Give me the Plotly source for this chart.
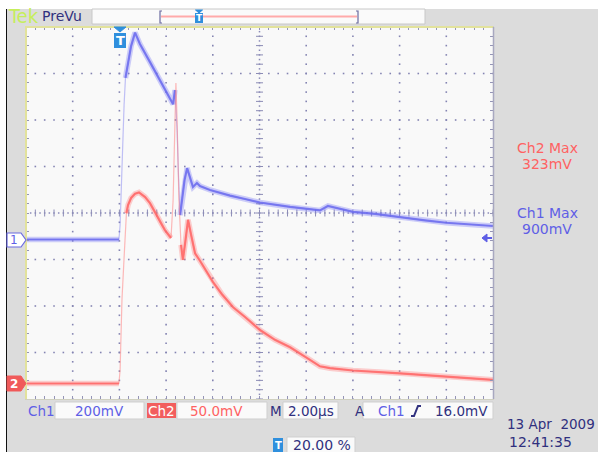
import numpy as np
import plotly.graph_objects as go

# ---------------- data (time in µs, voltage in mV) ----------------
ch1_t = [-4.0, -0.02, 0.03, 0.11, 0.20, 0.26, 0.37, 0.50, 0.67, 0.88, 1.31, 1.74, 2.30, 2.38,
         2.47, 2.53, 2.60, 2.68, 2.79, 2.90, 3.02, 3.15, 3.32, 3.45, 3.88, 4.31, 4.74, 5.38,
         6.02, 7.31, 8.03, 8.59, 8.93, 9.45, 10.0, 10.95, 12.02, 13.09, 13.99, 15.02, 16.0]
ch1_mv = [0, 0, 62, 342, 578, 695, 763, 832, 890, 841, 763, 686, 582, 643,
          471, 277, 105, 170, 256, 307, 265, 226, 243, 230, 213, 200, 189, 174,
          159, 140, 131, 125, 144, 131, 119, 110, 95, 82, 72, 65, 58]

ch2_t = [-4.0, -0.02, 0.03, 0.07, 0.11, 0.20, 0.30, 0.37, 0.50, 0.67, 0.84, 1.10, 1.31, 1.52,
         1.74, 1.95, 2.21, 2.30, 2.38, 2.42, 2.47, 2.55, 2.64, 2.72, 2.83, 2.94, 3.07, 3.24,
         3.45, 3.67, 4.01, 4.39, 4.87, 5.38, 6.02, 6.66, 7.31, 8.03, 8.59, 9.02, 10.0, 12.02,
         13.99, 16.0]
ch2_mv = [0, 0, 14.5, 52, 90, 135, 183, 192, 199.5, 204, 205.5, 200.5, 194, 184.5,
          173.5, 165, 156.5, 197, 283, 323, 283, 197, 149, 133, 154, 176, 160, 140,
          132, 123, 109, 96, 82, 71.5, 57.5, 47, 39, 27.5, 18.5, 16.5, 14, 11,
          7.5, 4]

# scope settings
ch1_scale = 200.0      # mV/div
ch2_scale = 50.0       # mV/div
time_scale = 2.0       # µs/div
ch1_offset_div = -0.57
ch2_offset_div = -3.667
t_start = -4.0
n_xdiv, n_ydiv = 10, 8

# labels
ch1_label, ch1_scale_label = "Ch1", "200mV"
ch2_label, ch2_scale_label = "Ch2", "50.0mV"
time_label = "2.00µs"
trig_label, trig_level = "Ch1", "16.0mV"
ch2_max_label, ch2_max_val = "Ch2 Max", "323mV"
ch1_max_label, ch1_max_val = "Ch1 Max", "900mV"
date_label, time_of_day = "13 Apr  2009", "12:41:35"
trig_pos_label = "20.00 %"

W, H = 598, 452
PL, PR, PT, PB = 26, 493, 27, 399

BLUE = "#5f5fe6"
NAVY = "#30307e"
RED = "#ff6262"
FONT = "DejaVu Sans"


def px(x):
    return x / W


def py(y):
    return 1 - y / H


t_end = t_start + n_xdiv * time_scale
ch1_range = [(-n_ydiv / 2 - ch1_offset_div) * ch1_scale, (n_ydiv / 2 - ch1_offset_div) * ch1_scale]
ch2_range = [(-n_ydiv / 2 - ch2_offset_div) * ch2_scale, (n_ydiv / 2 - ch2_offset_div) * ch2_scale]

FAST = 10.0  # div/div slope above which the persistence display shows a faint edge


def slow_parts(t, v, scale):
    xs, ys = [], []
    prev_ok = False
    for i in range(len(t) - 1):
        slope = abs((v[i + 1] - v[i]) / scale) / ((t[i + 1] - t[i]) / time_scale)
        ok = slope <= FAST
        if ok:
            if not prev_ok:
                xs.append(t[i]); ys.append(v[i])
            xs.append(t[i + 1]); ys.append(v[i + 1])
        elif prev_ok:
            xs.append(None); ys.append(None)
        prev_ok = ok
    return xs, ys


fig = go.Figure()

# ---------------- graticule dots ----------------
gx, gy = [], []
ydivs = np.arange(-n_ydiv / 2, n_ydiv / 2 + 0.001, 0.2)
for k in range(1, n_xdiv):
    if k == n_xdiv // 2:
        continue
    tt = t_start + k * time_scale
    gx += [tt] * len(ydivs); gy += list(ydivs)
tdots = np.arange(t_start, t_end + 0.001, time_scale / 5)
for k in range(1, n_ydiv):
    yy = -n_ydiv / 2 + k
    if yy == 0:
        continue
    gx += list(tdots); gy += [yy] * len(tdots)
fig.add_trace(go.Scatter(x=gx, y=gy, mode="markers", hoverinfo="skip",
                         marker=dict(symbol="square", size=1.6, color="#8484b2", line=dict(width=0))))

# centre lines (dots + minor ticks)
tc = t_start + n_xdiv / 2 * time_scale
cdx = np.arange(t_start, t_end + 0.001, time_scale / 10)
cdy = np.arange(-n_ydiv / 2, n_ydiv / 2 + 0.001, 0.1)
fig.add_trace(go.Scatter(x=list(cdx) + [tc] * len(cdy), y=[0] * len(cdx) + list(cdy), mode="markers",
                         hoverinfo="skip",
                         marker=dict(symbol="square", size=1.5, color="#8a8ab8", line=dict(width=0))))
fig.add_trace(go.Scatter(x=list(tdots), y=[0] * len(tdots), mode="markers", hoverinfo="skip",
                         marker=dict(symbol="line-ns", size=5, line=dict(width=1, color="#8c8cb6"))))
fig.add_trace(go.Scatter(x=[tc] * len(ydivs), y=list(ydivs), mode="markers", hoverinfo="skip",
                         marker=dict(symbol="line-ew", size=5, line=dict(width=1, color="#8c8cb6"))))

# ---------------- waveforms ----------------
for t, v, scale, yax, faint, halo, core in [
    (ch1_t, ch1_mv, ch1_scale, "y2", "rgba(120,120,240,0.45)", "rgba(120,120,245,0.35)", "rgba(105,105,238,0.8)"),
    (ch2_t, ch2_mv, ch2_scale, "y3", "rgba(255,120,120,0.5)", "rgba(255,120,120,0.35)", "rgba(255,100,100,0.8)"),
]:
    fig.add_trace(go.Scatter(x=t, y=v, yaxis=yax, mode="lines", hoverinfo="skip",
                             line=dict(color=faint, width=1.2)))
    sx, sy = slow_parts(t, v, scale)
    fig.add_trace(go.Scatter(x=sx, y=sy, yaxis=yax, mode="lines", hoverinfo="skip", connectgaps=False,
                             line=dict(color=halo, width=5.5)))
    fig.add_trace(go.Scatter(x=sx, y=sy, yaxis=yax, mode="lines", hoverinfo="skip", connectgaps=False,
                             line=dict(color=core, width=2.2)))

shapes = []
ann = []


def rect(x0, y0, x1, y1, fill, line="rgba(0,0,0,0)", lw=0):
    shapes.append(dict(type="rect", xref="paper", yref="paper", x0=px(x0), x1=px(x1), y0=py(y1), y1=py(y0),
                       fillcolor=fill, line=dict(color=line, width=lw), layer="above"))


def path(pts, color, width=1, fill=None, close=False):
    d = "M " + " L ".join(f"{px(a):.5f},{py(b):.5f}" for a, b in pts) + (" Z" if close else "")
    shapes.append(dict(type="path", xref="paper", yref="paper", path=d, layer="above",
                       line=dict(color=color, width=width), fillcolor=fill if fill else "rgba(0,0,0,0)"))


def text(x, y, s, color, size=13.5, xanchor="left", family=FONT, bold=False):
    ann.append(dict(x=px(x), y=py(y), xref="paper", yref="paper", text=(f"<b>{s}</b>" if bold else s),
                    showarrow=False, xanchor=xanchor, yanchor="middle",
                    font=dict(family=family, size=size, color=color)))


# frame: white top strip, left black line
rect(0, 0, W, 9, "#ffffff")
rect(0, 9, 6, H, "#ffffff")
rect(6, 9, 7, H, "#111111")
# plot border lines
path([(PL, PB), (PL, PT), (PR, PT)], "#e2e29c", 2)
path([(PR + 0.5, PT), (PR + 0.5, PB)], "#a8a8c0", 1.5)

# top bar
text(6, 16.5, "Tek", "#c6ee5c", size=20, family="DejaVu Sans Condensed")
text(40, 16.5, "PreVu", NAVY, size=14)
rect(92, 9, 425, 24, "#fafafa", "#c8c8c8", 1)
path([(162, 11), (160, 11), (160, 23), (162, 23)], "#6a6aa0", 1.2)
path([(356, 11), (358, 11), (358, 23), (356, 23)], "#6a6aa0", 1.2)
path([(161, 16.5), (357, 16.5)], "#ffaaaa", 2)
path([(195.5, 10), (202.5, 10), (199, 13)], "#2f8fdd", 1, fill="#2f8fdd", close=True)
rect(195, 13, 203, 23, "#2f8fdd")
text(199, 18, "T", "#ffffff", size=9, xanchor="center", bold=True)

# trigger position marker on graticule
path([(114, 27), (126, 27), (120, 32)], "#2f8fdd", 1, fill="#2f8fdd", close=True)
rect(114, 33, 126, 48, "#2f8fdd")
text(120, 40.5, "T", "#ffffff", size=13, xanchor="center", bold=True)

# channel ground markers
path([(7, 233), (21, 233), (26, 240), (21, 247), (7, 247)], "#6b6be0", 1.2, fill="#ffffff", close=True)
text(14, 240, "1", BLUE, size=12, xanchor="center")
path([(7, 376), (21, 376), (26, 383.5), (21, 391), (7, 391)], "#f05a5a", 1, fill="#f05a5a", close=True)
text(14, 383.5, "2", "#ffffff", size=12, xanchor="center", bold=True)

# trigger level arrow
path([(484, 238), (492, 238)], BLUE, 2)
path([(482, 238), (487, 234), (487, 242)], BLUE, 1, fill=BLUE, close=True)

# right side readouts
text(547, 148, ch2_max_label, RED, size=14, xanchor="center")
text(547, 164, ch2_max_val, RED, size=14, xanchor="center")
text(547, 213, ch1_max_label, BLUE, size=14, xanchor="center")
text(547, 229, ch1_max_val, BLUE, size=14, xanchor="center")

# bottom readouts
by = 410.5
text(26, by, ch1_label, BLUE)
rect(55, 402, 144, 419, "#fafafa", "#cfcfcf", 1)
text(99, by, ch1_scale_label, BLUE, xanchor="center")
rect(147, 403, 176, 418, "#f25e5e")
text(161.5, by, ch2_label, "#ffffff", xanchor="center")
rect(177, 402, 267, 419, "#fafafa", "#cfcfcf", 1)
text(216, by, ch2_scale_label, RED, xanchor="center")
text(268, by, "M", NAVY)
rect(283, 402, 338, 419, "#fafafa", "#cfcfcf", 1)
text(310.5, by, time_label, NAVY, xanchor="center")
text(353, by, "A", NAVY)
rect(363, 402, 493, 419, "#fafafa", "#cfcfcf", 1)
text(376, by, trig_label, BLUE)
path([(411, 416), (414, 416), (418, 406), (421, 406)], NAVY, 2)
text(490, by, trig_level, NAVY, xanchor="right")

text(597, 424, date_label, NAVY, size=13.5, xanchor="right")
text(507, 442, time_of_day, NAVY, size=14)
rect(273, 438, 283, 452, "#2f8fdd")
text(278, 445, "T", "#ffffff", size=10, xanchor="center", bold=True)
rect(287, 437, 355, 453, "#fafafa", "#cfcfcf", 1)
text(291, 445, trig_pos_label, NAVY, size=14)

axis_common = dict(showgrid=False, zeroline=False, showticklabels=False, ticks="inside", ticklen=3,
                   tickwidth=1, tickcolor="#9494b6", showline=True, linecolor="#d0d0c0", mirror="ticks")
fig.update_layout(
    width=W, height=H, autosize=False,
    margin=dict(l=0, r=0, t=0, b=0, pad=0),
    paper_bgcolor="#dcdcdc", plot_bgcolor="#f9f9f9",
    showlegend=False,
    xaxis=dict(range=[t_start, t_end], domain=[px(PL), px(PR)], tick0=t_start, dtick=time_scale / 5,
               **axis_common),
    yaxis=dict(range=[-n_ydiv / 2, n_ydiv / 2], domain=[py(PB), py(PT)], tick0=-n_ydiv / 2, dtick=0.2,
               **axis_common),
    yaxis2=dict(range=ch1_range, overlaying="y", visible=False),
    yaxis3=dict(range=ch2_range, overlaying="y", visible=False),
    shapes=shapes, annotations=ann,
)

fig.write_html("out.html")
